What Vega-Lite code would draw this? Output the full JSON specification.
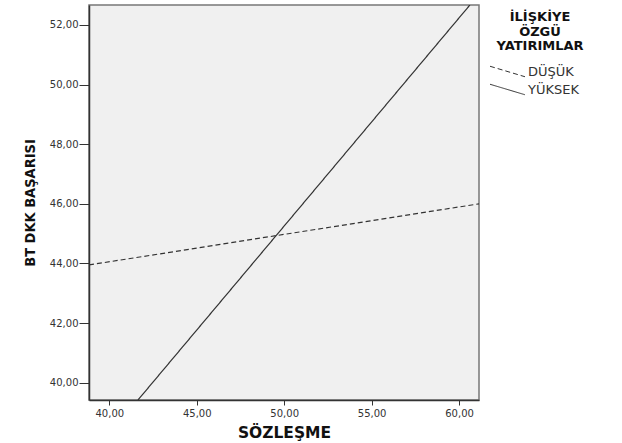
{
  "$schema": "https://vega.github.io/schema/vega-lite/v6.json",
  "width": 390,
  "height": 395,
  "autosize": "none",
  "padding": {"left": 89, "top": 5, "right": 143, "bottom": 43},
  "background": "white",
  "data": {
    "values": [
      {"x": 38.84, "y": 43.95, "g": "DÜŞÜK"},
      {"x": 61.14, "y": 46.0, "g": "DÜŞÜK"},
      {"x": 41.64, "y": 39.42, "g": "YÜKSEK"},
      {"x": 60.62, "y": 52.67, "g": "YÜKSEK"}
    ]
  },
  "config": {
    "view": {"fill": "#f0f0f0", "stroke": "#777", "strokeWidth": 1.5},
    "axis": {
      "grid": false,
      "domainColor": "#333",
      "domainWidth": 1.5,
      "tickColor": "#333",
      "labelFont": "DejaVu Sans",
      "labelFontSize": 10,
      "labelColor": "#333",
      "titleFont": "DejaVu Sans",
      "titleColor": "#111"
    }
  },
  "mark": {"type": "line", "color": "#333", "strokeWidth": 1.2, "clip": true},
  "encoding": {
    "x": {
      "field": "x",
      "type": "quantitative",
      "scale": {"domain": [38.84, 61.14], "nice": false, "zero": false},
      "axis": {
        "values": [40, 45, 50, 55, 60],
        "labelExpr": "replace(format(datum.value, '.2f'), '.', ',')",
        "tickSize": 5,
        "labelPadding": 3,
        "title": "SÖZLEŞME",
        "titleFontSize": 15.5,
        "titleFontWeight": "bold",
        "titlePadding": 7
      }
    },
    "y": {
      "field": "y",
      "type": "quantitative",
      "scale": {"domain": [39.42, 52.67], "nice": false, "zero": false},
      "axis": {
        "values": [40, 42, 44, 46, 48, 50, 52],
        "labelExpr": "replace(format(datum.value, '.2f'), '.', ',')",
        "tickSize": 10,
        "labelPadding": 1,
        "title": "BT DKK BAŞARISI",
        "titleFont": "DejaVu Sans Condensed",
        "titleFontSize": 14.5,
        "titleFontWeight": "bold",
        "titleX": -52,
        "titleBaseline": "bottom"
      }
    },
    "strokeDash": {
      "field": "g",
      "type": "nominal",
      "scale": {"domain": ["DÜŞÜK", "YÜKSEK"], "range": [[5, 3], [1, 0]]},
      "legend": {
        "orient": "none",
        "legendX": 407,
        "legendY": 6,
        "title": ["İLİŞKİYE", "ÖZGÜ", "YATIRIMLAR"],
        "titleFont": "DejaVu Sans",
        "titleFontSize": 13,
        "titleFontWeight": "bold",
        "titleColor": "#111",
        "titleAlign": "center",
        "titleAnchor": "middle",
        "titleLineHeight": 14.5,
        "titlePadding": 12,
        "symbolType": "M-3,-0.9L3,0.9",
        "symbolSize": 136,
        "symbolStrokeColor": "#333",
        "symbolStrokeWidth": 1,
        "symbolFillColor": "transparent",
        "rowPadding": 3,
        "labelOffset": 14,
        "labelFont": "DejaVu Sans",
        "labelFontSize": 13,
        "labelColor": "#333"
      }
    }
  }
}
